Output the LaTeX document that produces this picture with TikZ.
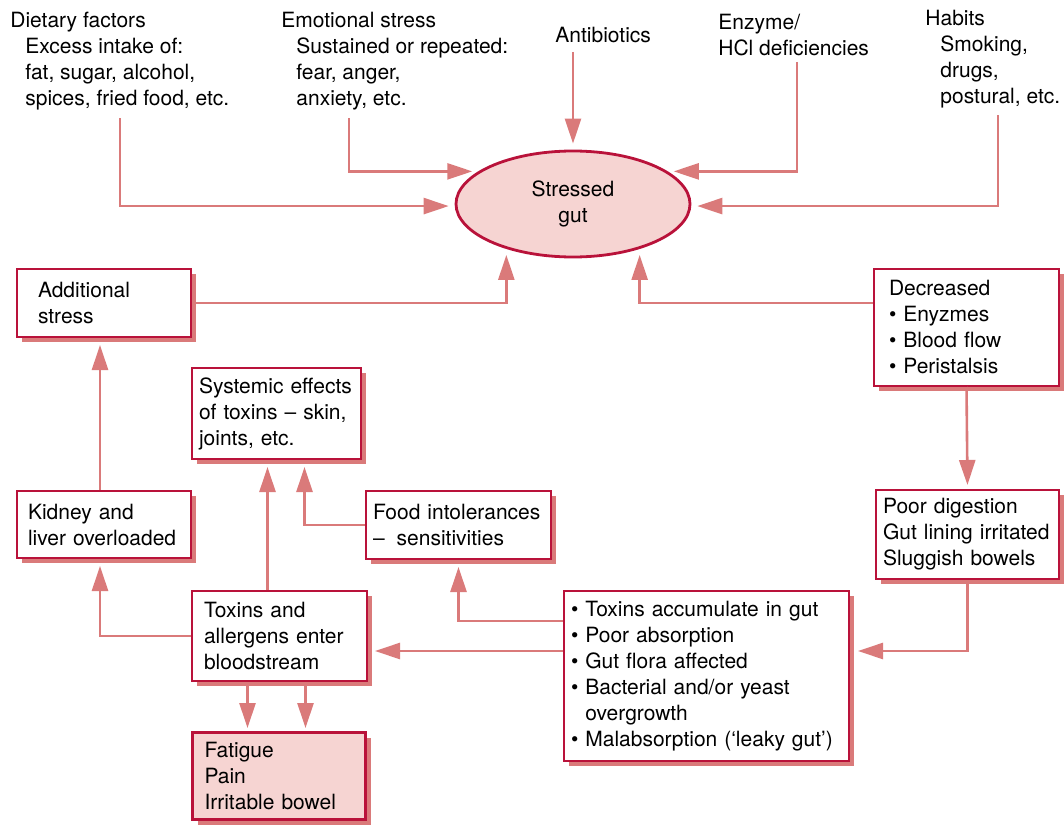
\documentclass[tikz,border=0pt]{standalone}
\usepackage{fontspec}
\setmainfont{TeX Gyre Heros}
\usetikzlibrary{arrows.meta,shadows,shapes.geometric,positioning}

\definecolor{linered}{RGB}{218,122,122}
\definecolor{boxred}{RGB}{185,18,58}
\definecolor{gutpink}{RGB}{246,212,210}

\tikzstyle{factor} = [anchor=north west, align=left, inner sep=0pt]
\tikzstyle{box} = [draw=boxred, line width=1pt, fill=white, anchor=north west,
    align=left, inner ysep=0pt,
    drop shadow={shadow xshift=2.5pt, shadow yshift=-2.5pt, fill=linered, opacity=1}]
\tikzstyle{target} = [draw=boxred, line width=1.4pt, fill=gutpink, ellipse,
    minimum width=117pt, minimum height=53pt, inner sep=0pt, align=center]
\tikzstyle{link} = [draw=linered, line width=1.3pt,
    -{Triangle[length=12.5pt,width=8pt]}, shorten >=2pt]

\begin{document}
\begin{tikzpicture}[x=0.5pt, y=-0.5pt, font=\fontsize{10.5}{13}\selectfont]
  \useasboundingbox (0,0) rectangle (1064,824);

  % causes along the top
  \node (diet) [factor] at (10,12) {Dietary factors\\\hspace*{7.5pt}Excess intake of:\\
    \hspace*{7.5pt}fat, sugar, alcohol,\\\hspace*{7.5pt}spices, fried food, etc.};
  \node (emo) [factor] at (281,12) {Emotional stress\\\hspace*{7.5pt}Sustained or repeated:\\
    \hspace*{7.5pt}fear, anger,\\\hspace*{7.5pt}anxiety, etc.};
  \node (anti) [factor] at (555,27) {Antibiotics};
  \node (enz) [factor] at (718,14) {Enzyme/\\HCl deficiencies};
  \node (hab) [factor] at (925,10) {Habits\\\hspace*{7.5pt}Smoking,\\
    \hspace*{7.5pt}drugs,\\\hspace*{7.5pt}postural, etc.};

  \node (gut) [target] at (573,204) {Stressed\\gut};

  % boxes
  \node (addl) [box, text width=66pt, inner xsep=10.5pt, minimum height=34pt] at (16,268)
    {Additional\\stress};
  \node (decr) [box, text width=77.5pt, inner xsep=7.5pt, minimum height=58.5pt] at (873,268)
    {Decreased\\• Enyzmes\\• Blood flow\\• Peristalsis};
  \node (poor) [box, text width=84.5pt, inner xsep=3.5pt, minimum height=44.5pt] at (875,489)
    {Poor digestion\\Gut lining irritated\\Sluggish bowels};
  \node (sys) [box, text width=77.5pt, inner xsep=3.5pt, minimum height=45.5pt] at (191,367)
    {Systemic effects\\of toxins – skin,\\joints, etc.};
  \node (food) [box, text width=85.5pt, inner xsep=3.5pt, minimum height=34pt] at (365,490)
    {Food intolerances\\–\hspace{6pt}sensitivities};
  \node (bul) [box, text width=135.5pt, inner xsep=3.5pt, minimum height=85pt] at (563,590)
    {• Toxins accumulate in gut\\• Poor absorption\\• Gut flora affected\\
     • Bacterial and/or yeast\\\phantom{• }overgrowth\\• Malabsorption (‘leaky gut’)};
  \node (tox) [box, text width=75.5pt, inner xsep=6pt, minimum height=45pt] at (191,590)
    {Toxins and\\allergens enter\\bloodstream};
  \node (kid) [box, text width=76pt, inner xsep=5.5pt, minimum height=33.5pt] at (16,490)
    {Kidney and\\liver overloaded};
  \node (fat) [box, fill=gutpink, line width=1.5pt, text width=74.5pt, inner xsep=6pt,
    minimum height=43.5pt] at (191,731) {Fatigue\\Pain\\Irritable bowel};

  \coordinate (diet-out) at (120,118);
  \coordinate (emo-out) at (349,118);
  \coordinate (anti-out) at (573,52);
  \coordinate (enz-out) at (797,62);
  \coordinate (hab-out) at (998,115);

  % into the gut
  \draw [link, shorten >=3pt] (diet-out) |- (gut.181);
  \draw [link, shorten >=3pt] (emo-out) |- (gut.161);
  \draw [link, shorten >=3pt] (anti-out) -- (gut.north);
  \draw [link, shorten >=3pt] (enz-out) |- (gut.19);
  \draw [link, shorten >=3pt] (hab-out) |- (gut.-1);
  \draw [link, shorten >=3pt] (addl.east) -| (gut.214);
  \draw [link, shorten >=3pt] (decr.west |- addl.east) -| (gut.326);

  % the chain round the bottom
  \draw [link] (decr.south) -- (poor.north);
  \draw [link, shorten >=4pt] (poor.south) |- ([yshift=12.5pt]bul.east);
  \draw [link, shorten >=3.5pt] ([yshift=12.5pt]bul.west) -- ([yshift=12.5pt]bul.west -| tox.east);
  \draw [link, shorten >=3.5pt] ([yshift=27.5pt]bul.west) -| (food.south);
  \draw [link, shorten >=3.5pt] (food.west) -| ([xshift=14pt]sys.south);
  \draw [link, shorten >=3.5pt] ([xshift=-6pt]tox.north) -- ([xshift=-6pt]tox.north |- sys.south);
  \draw [link, shorten >=3.5pt] (tox.west) -| ([xshift=-2pt]kid.south);
  \draw [link, shorten >=3.5pt] ([xshift=-2pt]kid.north) -- ([xshift=-2pt]kid.north |- addl.south);
  \draw [link, shorten >=1.5pt] ([xshift=-16pt]tox.south) -- ([xshift=-16pt]tox.south |- fat.north);
  \draw [link, shorten >=1.5pt] ([xshift=13pt]tox.south) -- ([xshift=13pt]tox.south |- fat.north);
\end{tikzpicture}
\end{document}
